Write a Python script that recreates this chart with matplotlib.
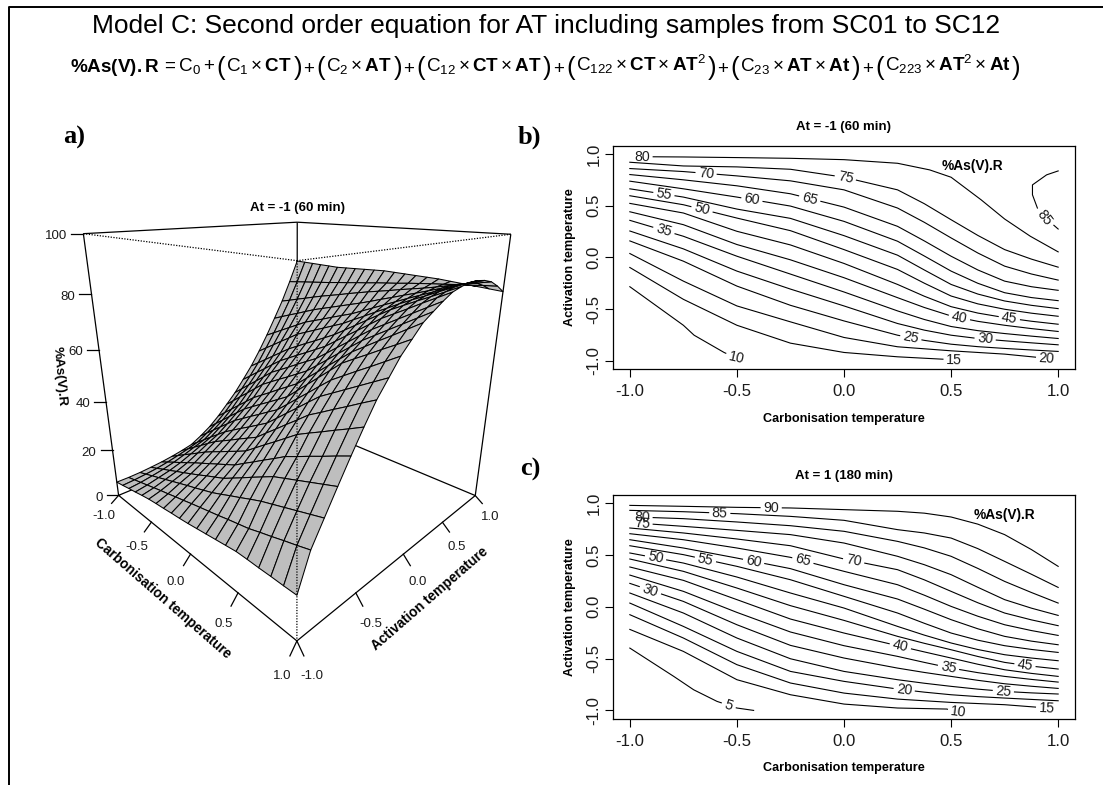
import matplotlib
matplotlib.use("Agg")
import matplotlib.pyplot as plt
import numpy as np
from matplotlib.collections import PolyCollection

plt.rcParams['font.family'] = ['Liberation Sans', 'DejaVu Sans']
plt.rcParams['mathtext.fontset'] = 'custom'
plt.rcParams['mathtext.rm'] = 'Liberation Sans'
plt.rcParams['mathtext.bf'] = 'Liberation Sans:bold'
plt.rcParams['mathtext.it'] = 'Liberation Sans:italic'

W, H = 1103, 785
TEXT = '#1a1a1a'

main_title = "Model C: Second order equation for AT including samples from SC01 to SC12"
# equation pieces, the brackets are drawn larger than the rest
eq_parts = [r"$\mathbf{\%As(V).R}$", r"$=\mathrm{C}_0+$",
            "(", r"$\mathrm{C}_1\times\mathbf{CT}$", ")", r"$+$",
            "(", r"$\mathrm{C}_2\times\mathbf{AT}$", ")", r"$+$",
            "(", r"$\mathrm{C}_{12}\times\mathbf{CT}\times\mathbf{AT}$", ")", r"$+$",
            "(", r"$\mathrm{C}_{122}\times\mathbf{CT}\times\mathbf{AT}^2$", ")", r"$+$",
            "(", r"$\mathrm{C}_{23}\times\mathbf{AT}\times\mathbf{At}$", ")", r"$+$",
            "(", r"$\mathrm{C}_{223}\times\mathbf{AT}^2\times\mathbf{At}$", ")"]

# contour lines: Activation temperature at each Carbonisation temperature
b_ct = [-1, -.75, -.5, -.25, 0, .25, .375, .5, .625, .75, .875, 1]
b_lines = {
    75: [.920, .884, .875, .852, .775, .653, .519, .364, .212, .075, -.017, -.095],
    70: [.859, .830, .788, .740, .653, .477, .339, .188, .042, -.085, -.161, -.220],
    65: [.801, .750, .692, .615, .486, .300, .159, .011, -.122, -.230, -.284, -.319],
    60: [.737, .663, .583, .496, .348, .156, .013, -.133, -.251, -.342, -.389, -.419],
    55: [.663, .583, .467, .377, .210, .021, -.122, -.262, -.355, -.422, -.464, -.496],
    50: [.596, .509, .380, .258, .075, -.117, -.250, -.374, -.450, -.502, -.540, -.570],
    45: [.522, .429, .252, .120, -.059, -.262, -.376, -.477, -.539, -.583, -.618, -.647],
    40: [.441, .316, .124, -.024, -.197, -.390, -.485, -.567, -.619, -.657, -.689, -.717],
    35: [.358, .204, .011, -.162, -.335, -.518, -.601, -.669, -.709, -.737, -.762, -.785],
    30: [.255, .082, -.133, -.307, -.470, -.640, -.704, -.753, -.785, -.807, -.827, -.846],
    25: [.159, -.037, -.278, -.464, -.615, -.753, -.803, -.840, -.864, -.881, -.896, -.910],
}
b_80_ct = [-.98, -.75, -.5, -.25, 0, .25, .4, .5, .64, .75, .87, 1]
b_80_at = [.974, .971, .965, .958, .945, .910, .846, .775, .557, .371, .204, .053]
b_20_ct = [-1, -.75, -.5, -.25, 0, .25, .5, .75, .95]
b_20_at = [.037, -.230, -.470, -.624, -.775, -.865, -.904, -.936, -.977]
b_15_ct = [-1, -.75, -.5, -.25, 0, .25, .45, .51]
b_15_at = [-.098, -.406, -.657, -.830, -.920, -.962, -.984, -.99]
b_10_ct = [-1, -.75, -.70, -.56, -.5]
b_10_at = [-.284, -.657, -.753, -.920, -.977]
b_85_upper_ct = [1, .946, .880, .880, .903]
b_85_upper_at = [.836, .798, .701, .605, .477]
b_85_lower_ct = [.98, 1]
b_85_lower_at = [.31, .274]
b_label_ct = {80: -.943, 75: .006, 70: -.644, 65: -.160, 60: -.430, 55: -.841, 50: -.663,
              45: .772, 40: .539, 35: -.841, 25: .312, 30: .659, 20: .946, 15: .514, 10: -.5}

# same for panel c
c_ct = [-1, -.75, -.5, -.25, 0, .25, .375, .5, .625, .75, .875, 1]
c_lines = {
    90: [.977, .968, .958, .952, .936, .920, .902, .865, .796, .695, .551, .389],
    85: [.929, .916, .897, .871, .833, .743, .711, .662, .560, .437, .313, .186],
    70: [.759, .711, .653, .588, .460, .357, .259, .148, .038, -.061, -.127, -.183],
    65: [.704, .646, .566, .476, .341, .212, .111, .003, -.092, -.174, -.230, -.277],
    60: [.646, .566, .469, .367, .212, .074, -.024, -.125, -.213, -.286, -.332, -.367],
    55: [.588, .502, .389, .260, .100, -.061, -.160, -.254, -.323, -.376, -.412, -.441],
    50: [.518, .421, .286, .132, -.013, -.190, -.274, -.350, -.413, -.463, -.495, -.521],
    45: [.460, .341, .180, .010, -.132, -.286, -.353, -.415, -.480, -.537, -.573, -.601],
    40: [.383, .254, .068, -.119, -.254, -.376, -.436, -.495, -.555, -.608, -.643, -.672],
    35: [.305, .148, -.055, -.244, -.376, -.479, -.537, -.592, -.636, -.672, -.701, -.727],
    30: [.225, .051, -.174, -.373, -.495, -.592, -.634, -.672, -.710, -.743, -.767, -.788],
    25: [.132, -.061, -.302, -.502, -.624, -.704, -.738, -.768, -.795, -.817, -.831, -.842],
    20: [.035, -.190, -.431, -.624, -.720, -.794, -.824, -.849, -.867, -.881, -.894, -.907],
}
c_top_ct = [-.97, -.75, -.5, -.25, 0, .25, .375, .5, .625, .75, .875, 1]
c_80_at = [.865, .849, .817, .781, .727, .630, .567, .486, .369, .244, .137, .035]
c_75_at = [.807, .775, .736, .695, .614, .486, .405, .309, .187, .068, -.014, -.084]
c_15_ct = [-1, -.75, -.5, -.25, 0, .25, .5, .75, .95]
c_15_at = [-.077, -.302, -.559, -.736, -.833, -.891, -.923, -.945, -.977]
c_10_ct = [-1, -.75, -.5, -.25, 0, .25, .48, .53]
c_10_at = [-.219, -.431, -.704, -.849, -.939, -.977, -.987, -1.016]
c_5_ct = [-1, -.795, -.702, -.593, -.5, -.422]
c_5_at = [-.399, -.672, -.801, -.913, -.977, -1.0]
c_label_ct = {90: -.340, 85: -.580, 80: -.943, 75: -.943, 70: .045, 65: -.192, 60: -.422, 55: -.647,
              50: -.880, 45: .845, 40: .263, 35: .488, 30: -.904, 25: .744, 20: .281, 15: .946,
              10: .535, 5: -.538}

# surface of panel a, %As(V).R: one row per Activation temperature (-1.0 to 1.0),
# one column per Carbonisation temperature (-1.0 to 1.0)
grid_ct = [-1, -.9, -.8, -.7, -.6, -.5, -.4, -.3, -.2, -.1, 0, .1, .2, .3, .4, .5, .6, .7, .8, .9, 1]
grid_at = [-1, -.9, -.8, -.7, -.6, -.5, -.4, -.3, -.2, -.1, 0, .1, .2, .3, .4, .5, .6, .7, .8, .9, 1]
surface = [
    [6.0, 6.7, 7.5, 8.2, 9.0, 9.7, 10.2, 10.6, 11.1, 11.5, 12.0, 12.6, 13.2, 13.8, 14.4, 15.0, 15.1, 15.1, 15.2, 15.2, 15.3],
    [6.0, 7.0, 8.0, 9.0, 10.0, 11.0, 11.9, 12.9, 13.8, 14.8, 15.7, 16.6, 17.5, 18.5, 19.4, 20.3, 21.6, 22.8, 24.1, 25.3, 26.6],
    [6.2, 7.5, 8.8, 10.1, 11.4, 12.7, 14.0, 15.3, 16.5, 17.8, 19.1, 20.7, 22.4, 24.0, 25.7, 27.3, 28.6, 29.9, 31.2, 32.5, 33.8],
    [6.6, 8.1, 9.7, 11.2, 12.8, 14.3, 15.9, 17.5, 19.2, 20.8, 22.4, 24.6, 26.8, 29.1, 31.3, 33.5, 35.0, 36.5, 38.0, 39.5, 41.0],
    [7.1, 9.0, 10.9, 12.7, 14.6, 16.5, 18.3, 20.1, 21.9, 23.7, 25.5, 28.1, 30.6, 33.2, 35.7, 38.3, 40.2, 42.2, 44.1, 46.1, 48.0],
    [7.8, 10.1, 12.4, 14.6, 16.9, 19.2, 21.2, 23.1, 25.1, 27.0, 29.0, 32.0, 35.0, 37.9, 40.9, 43.9, 46.1, 48.2, 50.4, 52.5, 54.7],
    [8.7, 11.3, 14.0, 16.6, 19.3, 21.9, 24.0, 26.1, 28.3, 30.4, 32.5, 35.8, 39.0, 42.3, 45.5, 48.8, 51.2, 53.7, 56.1, 58.6, 61.0],
    [9.8, 12.7, 15.6, 18.6, 21.5, 24.4, 26.8, 29.2, 31.5, 33.9, 36.3, 39.7, 43.2, 46.6, 50.1, 53.5, 56.0, 58.5, 61.0, 63.5, 66.0],
    [12.2, 15.3, 18.4, 21.5, 24.6, 27.7, 30.1, 32.6, 35.0, 37.5, 39.9, 43.4, 47.0, 50.5, 54.1, 57.6, 60.3, 63.0, 65.6, 68.3, 71.0],
    [15.0, 18.2, 21.4, 24.7, 27.9, 31.1, 33.6, 36.1, 38.5, 41.0, 43.5, 47.2, 50.9, 54.6, 58.3, 62.0, 64.6, 67.1, 69.7, 72.2, 74.8],
    [18.6, 21.8, 25.0, 28.2, 31.4, 34.6, 37.1, 39.6, 42.2, 44.7, 47.2, 50.7, 54.2, 57.7, 61.2, 64.7, 67.5, 70.3, 73.0, 75.8, 78.6],
    [22.8, 26.0, 29.3, 32.5, 35.8, 39.0, 41.4, 43.8, 46.1, 48.5, 50.9, 54.2, 57.5, 60.9, 64.2, 67.5, 70.2, 72.9, 75.6, 78.3, 81.0],
    [27.1, 30.3, 33.5, 36.6, 39.8, 43.0, 45.3, 47.6, 50.0, 52.3, 54.6, 57.7, 60.9, 64.0, 67.2, 70.3, 72.9, 75.5, 78.1, 80.7, 83.3],
    [32.2, 35.1, 38.1, 41.0, 44.0, 46.9, 49.2, 51.5, 53.7, 56.0, 58.3, 61.3, 64.3, 67.2, 70.2, 73.2, 75.6, 78.0, 80.5, 82.9, 85.3],
    [37.5, 40.2, 42.9, 45.6, 48.3, 51.0, 53.2, 55.4, 57.5, 59.7, 61.9, 64.6, 67.3, 70.0, 72.7, 75.4, 77.6, 79.8, 81.9, 84.1, 86.3],
    [43.6, 46.2, 48.7, 51.3, 53.8, 56.4, 58.2, 60.0, 61.8, 63.6, 65.4, 67.7, 69.9, 72.2, 74.4, 76.7, 78.8, 80.8, 82.9, 84.9, 87.0],
    [50.3, 52.4, 54.5, 56.6, 58.7, 60.8, 62.3, 63.8, 65.4, 66.9, 68.4, 70.3, 72.2, 74.1, 76.0, 77.9, 79.7, 81.5, 83.4, 85.2, 87.0],
    [57.5, 59.1, 60.7, 62.2, 63.8, 65.4, 66.7, 68.0, 69.3, 70.6, 71.9, 73.3, 74.8, 76.2, 77.7, 79.1, 80.6, 82.1, 83.5, 85.0, 86.5],
    [64.9, 66.0, 67.2, 68.3, 69.5, 70.6, 71.6, 72.6, 73.7, 74.7, 75.7, 76.6, 77.5, 78.5, 79.4, 80.3, 81.3, 82.4, 83.4, 84.5, 85.5],
    [73.4, 73.9, 74.4, 74.9, 75.4, 75.9, 76.5, 77.0, 77.6, 78.1, 78.7, 79.2, 79.7, 80.3, 80.8, 81.3, 81.7, 82.2, 82.6, 83.1, 83.5],
    [82.5, 82.4, 82.3, 82.2, 82.1, 82.0, 82.2, 82.4, 82.6, 82.8, 83.0, 82.9, 82.8, 82.7, 82.6, 82.5, 82.2, 81.9, 81.6, 81.3, 81.0],
]
z_ticks = [0, 20, 40, 60, 80, 100]
xy_ticks = [-1.0, -0.5, 0.0, 0.5, 1.0]

fig = plt.figure(figsize=(W / 100, H / 100), dpi=100)

# overlay in pixel coordinates for the frame, titles and the perspective panel
ov = fig.add_axes([0, 0, 1, 1])
ov.set_xlim(0, W)
ov.set_ylim(H, 0)
ov.axis('off')

ov.plot([W, 9, 9], [7, 7, H], color='black', lw=1.4, clip_on=False)
ov.text(546, 26, main_title, ha='center', va='center', fontsize=19, color='black')

# lay the equation out piece by piece, centred under the title
renderer = fig.canvas.get_renderer()
eq_texts = []
total = 0
for part in eq_parts:
    big = part in ("(", ")")
    t = ov.text(0, 75 if big else 71.5, part, ha='left', va='baseline',
                fontsize=18.5 if big else 13.6, color='black')
    wd = t.get_window_extent(renderer).width + 1.2
    eq_texts.append((t, wd))
    total += wd
cursor = 546 - total / 2
for t, wd in eq_texts:
    t.set_x(cursor)
    cursor += wd

for lab, lx, ly in [('a)', 74, 137), ('b)', 529, 137), ('c)', 530, 469)]:
    ov.text(lx, ly, lab, ha='center', va='center', fontsize=19, fontweight='bold',
            family='Liberation Serif', color='black')

# perspective of panel a, fitted to where the box corners sit on screen
corners = [(-1, -1, 0, 118.3, 494.3), (1, -1, 0, 297.3, 641.7), (1, 1, 0, 475, 495),
           (-1, 1, 0, 297.3, 422), (-1, -1, 100, 83.3, 234.3), (1, -1, 100, 297.3, 260.7),
           (1, 1, 100, 510.7, 234.3), (-1, 1, 100, 297.3, 221.7)]
A, rhs = [], []
for cx, cy, cz, sx, sy in corners:
    A.append([cx, cy, cz, 1, 0, 0, 0, 0, -sx * cx, -sx * cy, -sx * cz])
    rhs.append(sx)
    A.append([0, 0, 0, 0, cx, cy, cz, 1, -sy * cx, -sy * cy, -sy * cz])
    rhs.append(sy)
p = np.linalg.lstsq(np.array(A, float), np.array(rhs, float), rcond=None)[0]
P = np.append(p, 1).reshape(3, 4)


def project(ct, at, z):
    v = P @ np.array([ct, at, z, 1.0])
    return v[0] / v[2], v[1] / v[2]


def seg(a, b, **kw):
    pa, pb = project(*a), project(*b)
    ov.plot([pa[0], pb[0]], [pa[1], pb[1]], color='black', solid_capstyle='butt', **kw)


# back of the box
seg((-1, -1, 100), (-1, 1, 100), lw=.9)
seg((-1, 1, 100), (1, 1, 100), lw=.9)
seg((-1, -1, 0), (-1, -1, 100), lw=.9)
seg((1, 1, 0), (1, 1, 100), lw=.9)
seg((-1, 1, 0), (-1, 1, 100), lw=.9)
seg((-1, -1, 0), (-1, 1, 0), lw=.9)
seg((1, 1, 0), (-1, 1, 0), lw=.9)
seg((-1, -1, 0), (1, -1, 0), lw=.9)
seg((1, -1, 0), (1, 1, 0), lw=.9)

# surface, back to front
polys = []
for i in range(len(grid_ct) - 1):
    for j in range(len(grid_at) - 2, -1, -1):
        polys.append([project(grid_ct[i], grid_at[j], surface[j][i]),
                      project(grid_ct[i + 1], grid_at[j], surface[j][i + 1]),
                      project(grid_ct[i + 1], grid_at[j + 1], surface[j + 1][i + 1]),
                      project(grid_ct[i], grid_at[j + 1], surface[j + 1][i])])
ov.add_collection(PolyCollection(polys, facecolors='#BEBEBE', edgecolors='black', linewidths=.75, zorder=3))

# front of the box, dotted over the surface
for a, b in [((-1, -1, 100), (1, -1, 100)), ((1, 1, 100), (1, -1, 100)), ((1, -1, 100), (1, -1, 0))]:
    pa, pb = project(*a), project(*b)
    ov.plot([pa[0], pb[0]], [pa[1], pb[1]], color='black', lw=.9, ls=(0, (1, 1.2)), zorder=4)

# axis ticks of the box
for z in z_ticks:
    sx, sy = project(-1, -1, z)
    ov.plot([sx - 12, sx], [sy, sy], color='black', lw=.9)
    ov.text(sx - 16, sy + 2.5, str(z), ha='right', va='center', fontsize=9.5, color=TEXT)
for t in xy_ticks:
    tick_dy = 11.5 + 3.5 * t
    lab_dy = 28 + 7 * t
    sx, sy = project(t, -1, 0)
    ov.plot([sx, sx - 7], [sy, sy + tick_dy], color='black', lw=.9)
    ov.text(sx - 14.5, sy + lab_dy, f"{t:.1f}", ha='center', va='center', fontsize=9.5, color=TEXT)
    sx, sy = project(1, t, 0)
    ov.plot([sx, sx + 7], [sy, sy + 11.5 - 3.5 * t], color='black', lw=.9)
    ov.text(sx + 14.5, sy + 28 - 7 * t, f"{t:.1f}", ha='center', va='center', fontsize=9.5, color=TEXT)

ov.text(297, 208, "At = -1 (60 min)", ha='center', va='center', fontsize=9.5, fontweight='bold')
ov.text(59.3, 376.7, "%As(V).R", ha='center', va='center', rotation=-85, fontsize=9.6, fontweight='bold')
ov.text(163.3, 598.3, "Carbonisation temperature", ha='center', va='center', rotation=-41,
        rotation_mode='anchor', fontsize=9.9, fontweight='bold')
ov.text(430, 598.3, "Activation temperature", ha='center', va='center', rotation=41,
        rotation_mode='anchor', fontsize=9.9, fontweight='bold')


def with_gap(xs, ys, lx, g):
    # break a contour line where its own label sits
    xs, ys = np.array(xs, float), np.array(ys, float)
    lo, hi = lx - g, lx + g
    x_out, y_out = [], []
    if lo > xs[0]:
        x_out += list(xs[xs < lo]) + [lo]
        y_out += list(ys[xs < lo]) + [np.interp(lo, xs, ys)]
    x_out.append(np.nan)
    y_out.append(np.nan)
    if hi < xs[-1]:
        x_out += [hi] + list(xs[xs > hi])
        y_out += [np.interp(hi, xs, ys)] + list(ys[xs > hi])
    return x_out, y_out


def contour_panel(top, bottom, title, lines, labels, note_x, note_y):
    left, right = 612.7, 1075.3
    ax = fig.add_axes([left / W, 1 - bottom / H, (right - left) / W, (bottom - top) / H])
    ax.set_xlim(-1.08, 1.08)
    ax.set_ylim(-1.08, 1.08)
    for level, (xs, ys) in lines.items():
        lx = labels[level]
        gx, gy = with_gap(xs, ys, lx, .052 if level >= 10 else .035)
        ax.plot(gx, gy, color='black', lw=.8, solid_joinstyle='round')
        ly = np.interp(lx, xs, ys)
        d0 = ax.transData.transform((lx - .03, np.interp(lx - .03, xs, ys)))
        d1 = ax.transData.transform((lx + .03, np.interp(lx + .03, xs, ys)))
        rot = np.degrees(np.arctan2(d1[1] - d0[1], d1[0] - d0[0]))
        ax.text(lx, ly, str(level), ha='center', va='center', rotation=rot, rotation_mode='anchor',
                fontsize=10.2, color=TEXT, clip_on=False)
    ax.set_xticks(xy_ticks)
    ax.set_yticks(xy_ticks)
    ax.set_xticklabels([f"{t:.1f}" for t in xy_ticks])
    ax.set_yticklabels([f"{t:.1f}" for t in xy_ticks], rotation=90, va='center')
    ax.tick_params(axis='x', length=5.5, width=.8, labelsize=12.1, pad=5.5, labelcolor=TEXT)
    ax.tick_params(axis='y', length=5.5, width=.8, labelsize=12.1, pad=2.5, labelcolor=TEXT)
    for sp in ax.spines.values():
        sp.set_linewidth(.9)
    ax.set_xlabel("Carbonisation temperature", fontsize=9.1, fontweight='bold')
    ax.set_ylabel("Activation temperature", fontsize=9.1, fontweight='bold')
    ax.xaxis.set_label_coords(.5, -49.6 / (bottom - top), transform=ax.transAxes)
    ax.yaxis.set_label_coords(-43 / (right - left), .5, transform=ax.transAxes)
    ax.xaxis.label.set_va('center')
    ax.yaxis.label.set_va('center')
    ov.text(844, top - 19, title, ha='center', va='center', fontsize=9.5, fontweight='bold')
    ax.annotate("%As(V).R", (note_x / W, 1 - note_y / H), xycoords='figure fraction', ha='center',
                va='center', fontsize=9.9, fontweight='bold')
    return ax


lines_b = {80: (b_80_ct, b_80_at)}
for level, vals in b_lines.items():
    lines_b[level] = (b_ct, vals)
lines_b[20] = (b_20_ct, b_20_at)
lines_b[15] = (b_15_ct, b_15_at)
lines_b[10] = (b_10_ct, b_10_at)
ax_b = contour_panel(145.7, 369, "At = -1 (60 min)", lines_b, b_label_ct, 972.3, 165.7)
ax_b.plot(b_85_upper_ct, b_85_upper_at, color='black', lw=.8)
ax_b.plot(b_85_lower_ct, b_85_lower_at, color='black', lw=.8)
ax_b.text(.935, .38, "85", ha='center', va='center', rotation=-52, rotation_mode='anchor',
          fontsize=10.2, color=TEXT)

lines_c = {}
for level, vals in c_lines.items():
    lines_c[level] = (c_ct, vals)
lines_c[80] = (c_top_ct, c_80_at)
lines_c[75] = (c_top_ct, c_75_at)
lines_c[15] = (c_15_ct, c_15_at)
lines_c[10] = (c_10_ct, c_10_at)
lines_c[5] = (c_5_ct, c_5_at)
ax_c = contour_panel(494.7, 718.7, "At = 1 (180 min)", lines_c, c_label_ct, 1004, 515)

fig.savefig("out.png", dpi=100)
